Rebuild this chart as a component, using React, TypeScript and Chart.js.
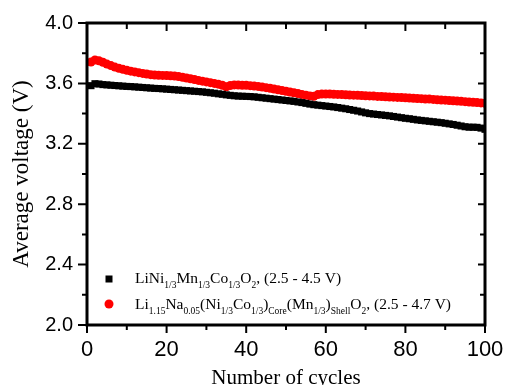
import React, { useEffect, useRef } from 'react';
import { Chart, registerables } from 'chart.js';

Chart.register(...registerables);

const cycles = [
  1, 2, 3, 4, 5, 6, 7, 8, 9, 10, 11, 12, 13, 14, 15, 16, 17, 18, 19, 20,
  21, 22, 23, 24, 25, 26, 27, 28, 29, 30, 31, 32, 33, 34, 35, 36, 37, 38, 39, 40,
  41, 42, 43, 44, 45, 46, 47, 48, 49, 50, 51, 52, 53, 54, 55, 56, 57, 58, 59, 60,
  61, 62, 63, 64, 65, 66, 67, 68, 69, 70, 71, 72, 73, 74, 75, 76, 77, 78, 79, 80,
  81, 82, 83, 84, 85, 86, 87, 88, 89, 90, 91, 92, 93, 94, 95, 96, 97, 98, 99, 100,
];

const nmcVoltage = [
  3.585, 3.598, 3.596, 3.592, 3.590, 3.588, 3.586, 3.584, 3.582, 3.580,
  3.579, 3.577, 3.575, 3.573, 3.571, 3.569, 3.567, 3.566, 3.564, 3.562,
  3.560, 3.558, 3.556, 3.554, 3.552, 3.550, 3.548, 3.546, 3.544, 3.541,
  3.538, 3.535, 3.531, 3.528, 3.524, 3.521, 3.518, 3.516, 3.515, 3.514,
  3.513, 3.511, 3.508, 3.505, 3.502, 3.499, 3.496, 3.493, 3.490, 3.487,
  3.484, 3.481, 3.477, 3.473, 3.468, 3.463, 3.459, 3.456, 3.453, 3.450,
  3.447, 3.444, 3.440, 3.436, 3.432, 3.427, 3.422, 3.417, 3.411, 3.405,
  3.400, 3.397, 3.394, 3.391, 3.388, 3.385, 3.381, 3.377, 3.373, 3.369,
  3.366, 3.362, 3.358, 3.355, 3.352, 3.349, 3.346, 3.343, 3.340, 3.336,
  3.332, 3.328, 3.323, 3.318, 3.313, 3.310, 3.310, 3.309, 3.304, 3.296,
];

const coreShellVoltage = [
  3.742, 3.755, 3.750, 3.740, 3.728, 3.718, 3.708, 3.700, 3.693, 3.687,
  3.681, 3.676, 3.671, 3.666, 3.662, 3.658, 3.656, 3.654, 3.653, 3.652,
  3.651, 3.649, 3.646, 3.641, 3.636, 3.631, 3.626, 3.620, 3.615, 3.610,
  3.605, 3.600, 3.595, 3.588, 3.578, 3.586, 3.590, 3.589, 3.588, 3.587,
  3.585, 3.583, 3.580, 3.576, 3.572, 3.568, 3.563, 3.558, 3.553, 3.548,
  3.543, 3.538, 3.533, 3.527, 3.522, 3.517, 3.515, 3.526, 3.529, 3.529,
  3.529, 3.528, 3.527, 3.526, 3.525, 3.523, 3.522, 3.521, 3.520, 3.518,
  3.517, 3.516, 3.514, 3.513, 3.511, 3.510, 3.509, 3.507, 3.506, 3.505,
  3.503, 3.502, 3.500, 3.499, 3.497, 3.496, 3.494, 3.492, 3.490, 3.489,
  3.487, 3.485, 3.483, 3.481, 3.479, 3.477, 3.475, 3.473, 3.471, 3.468,
];

const xMajorTicks = [0, 20, 40, 60, 80, 100];
const xMinorTicks = [10, 30, 50, 70, 90];
const yMajorTicks = [2.0, 2.4, 2.8, 3.2, 3.6, 4.0];
const yMinorTicks = [2.2, 2.6, 3.0, 3.4, 3.8];

type Seg = [string, boolean];
const legendNmc: Seg[] = [
  ['LiNi', false], ['1/3', true], ['Mn', false], ['1/3', true], ['Co', false], ['1/3', true],
  ['O', false], ['2', true], [', (2.5 - 4.5 V)', false],
];
const legendCoreShell: Seg[] = [
  ['Li', false], ['1.15', true], ['Na', false], ['0.05', true], ['(Ni', false], ['1/3', true],
  ['Co', false], ['1/3', true], [')', false], ['Core', true], ['(Mn', false], ['1/3', true],
  [')', false], ['Shell', true], ['O', false], ['2', true], [', (2.5 - 4.7 V)', false],
];

const SERIF = '"Liberation Serif", "Times New Roman", serif';
const SANS = '"Liberation Sans", Arial, sans-serif';

const framePlugin = {
  id: 'frameTicksLegend',
  afterDatasetsDraw(chart: any) {
    const { ctx, chartArea: a, scales } = chart;
    const x = scales.x;
    const y = scales.y;
    ctx.save();
    ctx.strokeStyle = '#000';
    ctx.lineWidth = 2;
    ctx.beginPath();
    for (const v of xMajorTicks) {
      const px = x.getPixelForValue(v);
      ctx.moveTo(px, a.bottom); ctx.lineTo(px, a.bottom + 8);
      ctx.moveTo(px, a.top); ctx.lineTo(px, a.top + 8);
    }
    for (const v of xMinorTicks) {
      const px = x.getPixelForValue(v);
      ctx.moveTo(px, a.bottom); ctx.lineTo(px, a.bottom + 5);
      ctx.moveTo(px, a.top); ctx.lineTo(px, a.top + 6);
    }
    for (const v of yMajorTicks) {
      const py = y.getPixelForValue(v);
      ctx.moveTo(a.left, py); ctx.lineTo(a.left - 9, py);
      ctx.moveTo(a.right, py); ctx.lineTo(a.right - 7, py);
    }
    for (const v of yMinorTicks) {
      const py = y.getPixelForValue(v);
      ctx.moveTo(a.left, py); ctx.lineTo(a.left - 5, py);
      ctx.moveTo(a.right, py); ctx.lineTo(a.right - 5, py);
    }
    ctx.stroke();
    ctx.lineWidth = 3;
    ctx.strokeRect(a.left, a.top, a.right - a.left, a.bottom - a.top);

    // legend
    const mx = a.left + 22;
    const y1 = a.bottom - 46;
    const y2 = a.bottom - 21;
    ctx.fillStyle = '#000';
    ctx.fillRect(mx - 3.5, y1 - 3.5, 7, 7);
    ctx.fillStyle = '#ff0000';
    ctx.beginPath();
    ctx.arc(mx, y2, 4.5, 0, Math.PI * 2);
    ctx.fill();

    const drawSegs = (segs: Seg[], x0: number, base: number) => {
      let cx = x0;
      ctx.fillStyle = '#000';
      ctx.textBaseline = 'alphabetic';
      ctx.textAlign = 'left';
      for (const [t, sub] of segs) {
        ctx.font = sub ? `9.5px ${SERIF}` : `15.5px ${SERIF}`;
        ctx.fillText(t, cx, sub ? base + 5 : base);
        cx += ctx.measureText(t).width;
      }
    };
    drawSegs(legendNmc, a.left + 48, a.bottom - 42);
    drawSegs(legendCoreShell, a.left + 48, a.bottom - 16);
    ctx.restore();
  },
};

export default function App() {
  const ref = useRef<HTMLCanvasElement | null>(null);
  useEffect(() => {
    document.body.style.margin = '0';
    const canvas = ref.current;
    if (!canvas) return;
    const chart = new Chart(canvas, {
      type: 'scatter',
      data: {
        datasets: [
          {
            label: 'LiNi1/3Mn1/3Co1/3O2, (2.5 - 4.5 V)',
            data: cycles.map((c, i) => ({ x: c, y: nmcVoltage[i] })),
            pointStyle: 'rect',
            pointRadius: 5,
            backgroundColor: '#000',
            borderColor: '#000',
            borderWidth: 0,
            pointHoverRadius: 5,
          },
          {
            label: 'Li1.15Na0.05(Ni1/3Co1/3)Core(Mn1/3)ShellO2, (2.5 - 4.7 V)',
            data: cycles.map((c, i) => ({ x: c, y: coreShellVoltage[i] })),
            pointStyle: 'circle',
            pointRadius: 4.5,
            backgroundColor: '#ff0000',
            borderColor: '#ff0000',
            borderWidth: 0,
            pointHoverRadius: 4.5,
          },
        ],
      },
      options: {
        responsive: false,
        animation: false,
        events: [],
        layout: { padding: { top: 23, right: 20, left: 0, bottom: 0 } },
        plugins: { legend: { display: false }, tooltip: { enabled: false } },
        scales: {
          x: {
            type: 'linear',
            min: 0,
            max: 100,
            afterFit: (s: any) => { s.height = 60; s.paddingLeft = 0; s.paddingRight = 0; },
            afterBuildTicks: (s: any) => { s.ticks = xMajorTicks.map((v) => ({ value: v })); },
            ticks: {
              padding: 12,
              color: '#000',
              font: { family: SANS, size: 22 },
              callback: (v: any) => String(v),
              maxRotation: 0,
            },
            grid: { display: false, drawTicks: false },
            border: { display: false },
            title: {
              display: true,
              text: 'Number of cycles',
              color: '#000',
              font: { family: SERIF, size: 21 },
              padding: { top: 0, bottom: -6 },
            },
          },
          y: {
            type: 'linear',
            min: 2.0,
            max: 4.0,
            afterFit: (s: any) => { s.width = 87; s.paddingTop = 0; s.paddingBottom = 0; },
            afterBuildTicks: (s: any) => { s.ticks = yMajorTicks.map((v) => ({ value: v })); },
            ticks: {
              padding: 14,
              color: '#000',
              font: { family: SANS, size: 20 },
              callback: (v: any) => Number(v).toFixed(1),
            },
            grid: { display: false, drawTicks: false },
            border: { display: false },
            title: {
              display: true,
              text: 'Average voltage (V)',
              color: '#000',
              font: { family: SERIF, size: 23 },
              padding: { top: 8, bottom: 0 },
            },
          },
        },
      },
      plugins: [framePlugin],
    });
    return () => chart.destroy();
  }, []);
  return <canvas ref={ref} width={505} height={385} style={{ display: 'block' }} />;
}
